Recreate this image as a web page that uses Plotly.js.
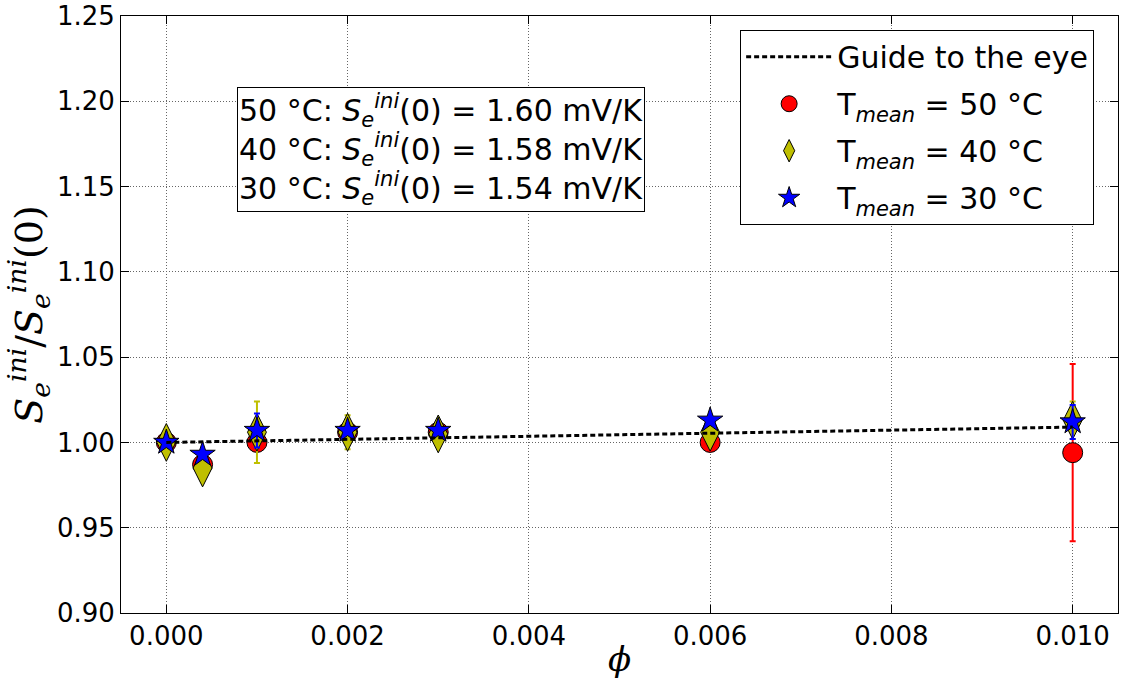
<!DOCTYPE html>
<html>
<head>
<meta charset="utf-8">
<script src="https://cdn.plot.ly/plotly-3.0.1.min.js"></script>
<style>html,body{margin:0;padding:0;background:#fff;}#chart{width:1121px;height:679px;}</style>
</head>
<body>
<div id="chart"></div>
<script>
// Data
const phi = [0.0, 0.0004, 0.001, 0.002, 0.003, 0.006, 0.010];

const ratio50 = [1.000, 0.987, 1.000, 1.006, 1.006, 1.000, 0.994];
const err50   = [0.002, 0.002, 0.002, 0.002, 0.002, 0.002, 0.052];

const ratio40 = [1.000, 0.985, 1.006, 1.006, 1.005, 1.006, 1.013];
const err40   = [0.002, 0.002, 0.018, 0.010, 0.002, 0.002, 0.011];

const ratio30 = [1.000, 0.993, 1.007, 1.007, 1.007, 1.013, 1.012];
const err30   = [0.002, 0.002, 0.010, 0.002, 0.002, 0.002, 0.010];

const guideX = [0.0, 0.010];
const guideY = [1.000, 1.009];

const seriesNames = ['T<sub><i>mean</i></sub> = 50 °C', 'T<sub><i>mean</i></sub> = 40 °C', 'T<sub><i>mean</i></sub> = 30 °C'];
const guideName = 'Guide to the eye';
const infoLines = [
  '50 °C: <i>S</i><sub><i>e</i></sub><sup><i>ini</i></sup>(0) = 1.60 mV/K',
  '40 °C: <i>S</i><sub><i>e</i></sub><sup><i>ini</i></sup>(0) = 1.58 mV/K',
  '30 °C: <i>S</i><sub><i>e</i></sub><sup><i>ini</i></sup>(0) = 1.54 mV/K'
];

const xTicks = [0.000, 0.002, 0.004, 0.006, 0.008, 0.010];
const yTicks = [0.90, 0.95, 1.00, 1.05, 1.10, 1.15, 1.20, 1.25];

const FONT = 'DejaVu Sans, sans-serif';

function series(y, e, name, color, symbol, size, rank) {
  return {
    x: phi, y: y, name: name, type: 'scatter', mode: 'markers',
    legendrank: rank, legendgroup: 'g' + rank,
    marker: {color: color, symbol: symbol, size: size, line: {color: '#000', width: 1}},
    error_y: {type: 'data', array: e, visible: true, color: color, thickness: 2, width: 3}
  };
}

const traces = [
  series(ratio50, err50, seriesNames[0], '#ff0000', 'circle', 20, 2),
  series(ratio40, err40, seriesNames[1], '#bfbf00', 'diamond-tall', 27, 3),
  series(ratio30, err30, seriesNames[2], '#0000ff', 'star', 19, 4),
  {x: guideX, y: guideY, name: guideName, type: 'scatter', mode: 'lines', legendrank: 1, legendgroup: 'g1',
   line: {color: '#000', width: 3, dash: '5px,3px'}}
];

const axisCommon = {
  showline: true, linecolor: '#000', linewidth: 1, mirror: 'ticks',
  ticks: 'inside', ticklen: 8, tickwidth: 1, tickcolor: '#000',
  showgrid: true, gridcolor: '#666', gridwidth: 1, griddash: '1px,2px',
  zeroline: false, tickfont: {family: FONT, size: 26, color: '#000'}
};

const layout = {
  width: 1121, height: 679,
  margin: {l: 121, r: 3, t: 16, b: 66},
  paper_bgcolor: '#fff', plot_bgcolor: '#fff',
  font: {family: FONT, color: '#000'},
  xaxis: Object.assign({}, axisCommon, {
    range: [-0.0005, 0.0105], tickvals: xTicks, ticktext: xTicks.map(v => v.toFixed(3)),
    title: {text: '<i>ϕ</i>', font: {family: 'DejaVu Serif, serif', size: 34}, standoff: 4}
  }),
  yaxis: Object.assign({}, axisCommon, {
    range: [0.90, 1.25], tickvals: yTicks, ticktext: yTicks.map(v => v.toFixed(2)),
    title: {text: '<i>S</i><sub><i>e</i></sub><sup><i>ini</i></sup>/<i>S</i><sub><i>e</i></sub><sup><i>ini</i></sup>(0)',
            font: {family: 'DejaVu Serif, serif', size: 38}, standoff: 2}
  }),
  showlegend: true,
  legend: {
    x: 0.621, y: 0.977, xanchor: 'left', yanchor: 'top',
    bgcolor: '#fff', bordercolor: '#000', borderwidth: 1,
    font: {family: FONT, size: 30, color: '#000'},
    itemwidth: 86, tracegroupgap: 5
  },
  annotations: [{
    xref: 'paper', yref: 'paper', x: 0.1163, y: 0.881, xanchor: 'left', yanchor: 'top',
    text: infoLines.join('<br>'), align: 'left', showarrow: false,
    font: {family: FONT, size: 30, color: '#000'},
    bgcolor: '#fff', bordercolor: '#000', borderwidth: 1, borderpad: 1
  }]
};

Plotly.newPlot('chart', traces, layout, {displayModeBar: false, staticPlot: true});
</script>
</body>
</html>
